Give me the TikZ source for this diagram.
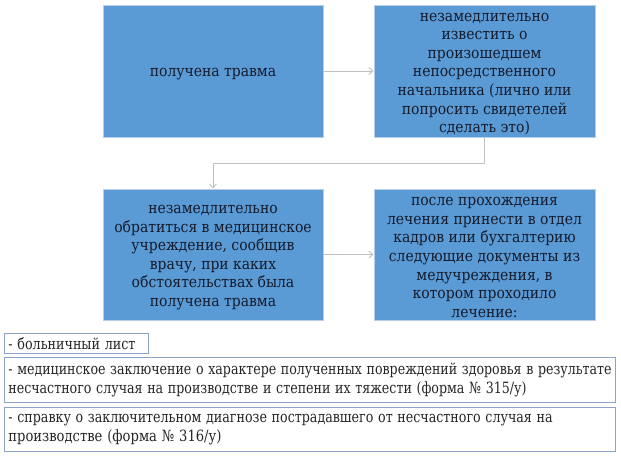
\documentclass[tikz,border=0pt]{standalone}
\usepackage{fontspec}
\usepackage{graphicx}
\setmainfont{DejaVu Serif Condensed}
\newfontfamily\tnr{DejaVu Serif Condensed}
\usetikzlibrary{arrows.meta}
\definecolor{boxblue}{HTML}{5B9BD5}
\definecolor{boxedge}{HTML}{BACDE6}
\definecolor{boxtext}{HTML}{141B2D}
\definecolor{listedge}{HTML}{8CA3C6}
\definecolor{listtext}{HTML}{262626}
\definecolor{arrgrey}{HTML}{BFBFBF}
\newcommand{\fitln}[2]{\resizebox{#1}{\height}{\mbox{#2}}}
\begin{document}
\begin{tikzpicture}[x=1pt,y=-1pt,
  bluebox/.style={draw=boxedge, line width=1pt, fill=boxblue},
  bluetext/.style={text=boxtext, align=center, font=\tnr\fontsize{15.5}{18.6}\selectfont, inner sep=0pt, yshift=-3pt},
  listbox/.style={draw=listedge, line width=0.8pt, fill=white, text=listtext, align=left,
    font=\tnr\fontsize{15.5}{19}\selectfont, inner xsep=4pt, inner ysep=1pt, anchor=north west},
  arr/.style={draw=arrgrey, line width=0.9pt, -{Straight Barb[length=4pt,width=7pt]}}]
\useasboundingbox (0,0) rectangle (621,458);
\node[bluebox, minimum width=220pt, minimum height=132pt] (b1) at (213,71) {};
\node[bluebox, minimum width=221pt, minimum height=132pt] (b2) at (484.5,71) {};
\node[bluebox, minimum width=220pt, minimum height=131pt] (b3) at (213,254.5) {};
\node[bluebox, minimum width=221pt, minimum height=131pt] (b4) at (484.5,254.5) {};
\node[bluetext] (t1) at (b1) {получена травма};
\node[bluetext] (t2) at (b2)
  {незамедлительно\\ известить о\\ произошедшем\\ непосредственного\\ начальника (лично или\\ попросить свидетелей\\ сделать это)};
\node[bluetext] (t3) at (b3)
  {незамедлительно\\ обратиться в медицинское\\ учреждение, сообщив\\ врачу, при каких\\ обстоятельствах была\\ получена травма};
\node[bluetext] (t4) at (b4)
  {после прохождения\\ лечения принести в отдел\\ кадров или бухгалтерию\\ следующие документы из\\ медучреждения, в\\ котором проходило\\ лечение:};
\draw[arr] (b1) -- (b2);
\draw[arr] (b2.south) -- ++(0,26) -| (b3.north);
\draw[arr] (b3) -- (b4);
\node[listbox, minimum width=144pt, minimum height=20pt, text width=136pt] (l1) at (4,333)
  {\fitln{127pt}{- больничный лист}};
\node[listbox, minimum width=611pt, minimum height=45pt, text width=603pt] (l2) at (4,357)
  {\fitln{603pt}{- медицинское заключение о характере полученных повреждений здоровья в результате}\\
   \fitln{518pt}{несчастного случая на производстве и степени их тяжести (форма № 315/у)}};
\node[listbox, minimum width=611pt, minimum height=44pt, text width=603pt] (l3) at (4,407)
  {\fitln{544pt}{- справку о заключительном диагнозе пострадавшего от несчастного случая на}\\
   \fitln{213pt}{производстве (форма № 316/у)}};
\end{tikzpicture}
\end{document}
